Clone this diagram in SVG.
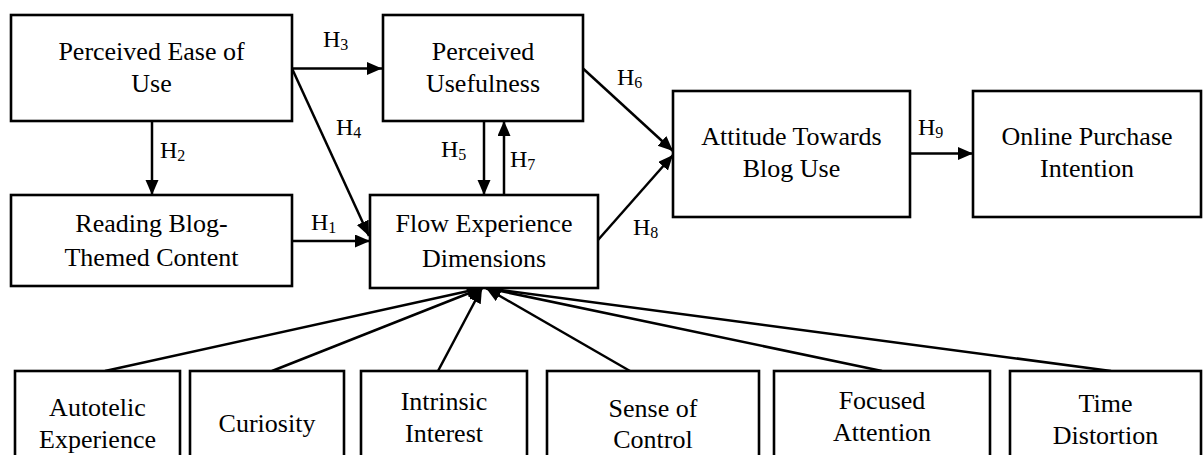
<svg xmlns="http://www.w3.org/2000/svg" width="1203" height="455" viewBox="0 0 1203 455">
<style>
.box{fill:#fff;stroke:#000;stroke-width:2.6}
.t{font-family:"Liberation Serif","Times New Roman",serif;font-size:26px;fill:#000;text-anchor:middle}
.h{font-family:"Liberation Serif","Times New Roman",serif;font-size:24px;fill:#000}
.s{font-size:16px}
.c{stroke:#000;stroke-width:2.5;fill:none;marker-end:url(#ah)}
</style>
<defs>
<marker id="ah" markerUnits="userSpaceOnUse" markerWidth="16" markerHeight="14" refX="15" refY="6.5" orient="auto">
<path d="M0,0 L15,6.5 L0,13 z" fill="#000"/>
</marker>
</defs>
<rect width="1203" height="455" fill="#fff"/>
<g id="connectors">
<line class="c" x1="292" y1="68.5" x2="382" y2="68.5"/>
<line class="c" x1="152" y1="121" x2="152" y2="195"/>
<line class="c" x1="292" y1="68.5" x2="369" y2="236"/>
<line class="c" x1="292" y1="241" x2="370" y2="241"/>
<line class="c" x1="484" y1="121" x2="484" y2="195"/>
<line class="c" x1="504" y1="195" x2="504" y2="121"/>
<line class="c" x1="583" y1="68.5" x2="673" y2="151"/>
<line class="c" x1="598" y1="240" x2="673" y2="155"/>
<line class="c" x1="910" y1="153.5" x2="973" y2="153.5"/>
<line class="c" x1="105" y1="371" x2="482" y2="288"/>
<line class="c" x1="272" y1="371" x2="482" y2="288"/>
<line class="c" x1="438" y1="371" x2="482" y2="288"/>
<line class="c" x1="630" y1="371" x2="486" y2="288"/>
<line class="c" x1="882" y1="371" x2="486" y2="288"/>
<line class="c" x1="1111" y1="371" x2="486" y2="288"/>
<text class="h" x="323" y="47">H<tspan class="s" dy="3">3</tspan></text>
<text class="h" x="160" y="158">H<tspan class="s" dy="3">2</tspan></text>
<text class="h" x="336" y="135">H<tspan class="s" dy="3">4</tspan></text>
<text class="h" x="311" y="230">H<tspan class="s" dy="3">1</tspan></text>
<text class="h" x="441" y="157">H<tspan class="s" dy="3">5</tspan></text>
<text class="h" x="510" y="167">H<tspan class="s" dy="3">7</tspan></text>
<text class="h" x="617" y="85">H<tspan class="s" dy="3">6</tspan></text>
<text class="h" x="633" y="235">H<tspan class="s" dy="3">8</tspan></text>
<text class="h" x="918" y="135">H<tspan class="s" dy="3">9</tspan></text>
</g>
<g id="peu"><rect class="box" x="11" y="15" width="281" height="106"/>
<text class="t" x="151.5" y="60">Perceived Ease of</text><text class="t" x="151.5" y="92">Use</text></g>
<g id="pu"><rect class="box" x="383" y="15" width="200" height="106"/>
<text class="t" x="483" y="60">Perceived</text><text class="t" x="483" y="92">Usefulness</text></g>
<g id="rbc"><rect class="box" x="11" y="195" width="281" height="91"/>
<text class="t" x="151.5" y="232">Reading Blog-</text><text class="t" x="151.5" y="266">Themed Content</text></g>
<g id="fed"><rect class="box" x="370" y="195" width="228" height="93"/>
<text class="t" x="484" y="232">Flow Experience</text><text class="t" x="484" y="267">Dimensions</text></g>
<g id="atb"><rect class="box" x="673" y="91" width="237" height="126"/>
<text class="t" x="791.5" y="145">Attitude Towards</text><text class="t" x="791.5" y="177">Blog Use</text></g>
<g id="opi"><rect class="box" x="973" y="91" width="228" height="126"/>
<text class="t" x="1087" y="145">Online Purchase</text><text class="t" x="1087" y="177">Intention</text></g>
<g id="autotelic"><rect class="box" x="15" y="371" width="165" height="120"/>
<text class="t" x="97.5" y="416">Autotelic</text><text class="t" x="97.5" y="448">Experience</text></g>
<g id="curiosity"><rect class="box" x="190" y="371" width="154" height="120"/>
<text class="t" x="267" y="432">Curiosity</text></g>
<g id="intrinsic"><rect class="box" x="361" y="371" width="166" height="120"/>
<text class="t" x="444" y="410">Intrinsic</text><text class="t" x="444" y="442">Interest</text></g>
<g id="control"><rect class="box" x="547" y="371" width="212" height="120"/>
<text class="t" x="653" y="417">Sense of</text><text class="t" x="653" y="448">Control</text></g>
<g id="focused"><rect class="box" x="774" y="371" width="216" height="120"/>
<text class="t" x="882" y="409">Focused</text><text class="t" x="882" y="441">Attention</text></g>
<g id="time"><rect class="box" x="1010" y="371" width="191" height="120"/>
<text class="t" x="1105.5" y="412">Time</text><text class="t" x="1105.5" y="444">Distortion</text></g>
</svg>
